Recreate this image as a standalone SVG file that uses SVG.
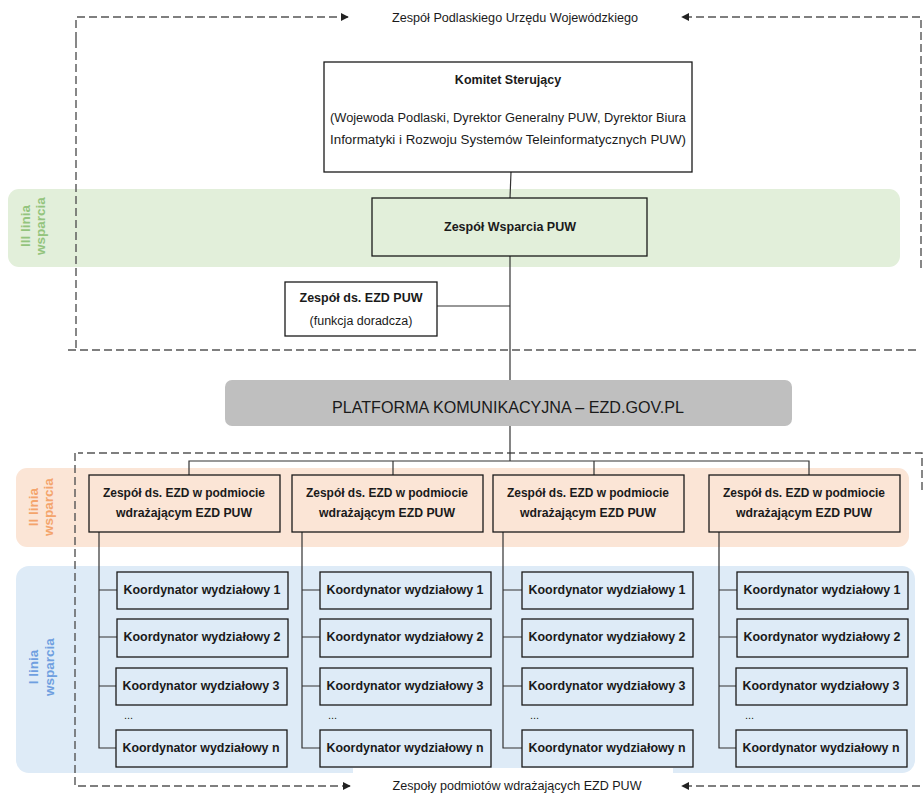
<svg xmlns="http://www.w3.org/2000/svg" width="924" height="794" viewBox="0 0 924 794">
<style>
text{font-family:"Liberation Sans",Arial,sans-serif;fill:#1a1a1a}
.b{font-weight:bold}
.box{stroke:#1a1a1a;stroke-width:1.3}
.w{fill:#ffffff}
.g{fill:#e2efda}
.o{fill:#fbe5d6}
.bl{fill:#deebf7}
.con{stroke:#333;stroke-width:1.2;fill:none}
.dash{stroke:#555;stroke-width:1.4;fill:none;stroke-dasharray:8 4}
.lbl{font-size:13.5px;font-weight:bold}
.k{font-size:12px;font-weight:bold}
.z{font-size:12px;font-weight:bold}
</style>
<defs>
<marker id="ah" viewBox="0 0 10 10" refX="9" refY="5" markerWidth="8" markerHeight="8" orient="auto-start-reverse" markerUnits="userSpaceOnUse">
<path d="M0,0 L10,5 L0,10 z" fill="#222"/>
</marker>
</defs>

<g id="bands">
<rect x="8" y="189" width="892" height="78" rx="11" fill="#e2efda"/>
<rect x="16" y="468" width="893" height="79" rx="11" fill="#fbe5d6"/>
<rect x="16" y="566" width="899" height="207" rx="13" fill="#deebf7"/>
<rect x="353" y="768" width="320" height="26" fill="#ffffff"/>
<text class="lbl" style="fill:#93c47d" transform="rotate(-90 30 226)" x="30" y="226" text-anchor="middle">III linia</text>
<text class="lbl" style="fill:#93c47d" transform="rotate(-90 45 226)" x="45" y="226" text-anchor="middle">wsparcia</text>
<text class="lbl" style="fill:#f4a46c" transform="rotate(-90 38 507)" x="38" y="507" text-anchor="middle">II linia</text>
<text class="lbl" style="fill:#f4a46c" transform="rotate(-90 53 507)" x="53" y="507" text-anchor="middle">wsparcia</text>
<text class="lbl" style="fill:#6f9fe0" transform="rotate(-90 38 667)" x="38" y="667" text-anchor="middle">I linia</text>
<text class="lbl" style="fill:#6f9fe0" transform="rotate(-90 54 667)" x="54" y="667" text-anchor="middle">wsparcia</text>
</g>

<g id="frames">
<path class="dash" d="M76,40 L76,17 L348,17" marker-end="url(#ah)"/>
<path class="dash" d="M76,40 L76,350"/>
<path class="dash" d="M921,268 L921,17 L682,17" marker-end="url(#ah)"/>
<path class="dash" d="M68,350 L918,350"/>
<text x="515" y="22" text-anchor="middle" font-size="12" textLength="246" lengthAdjust="spacingAndGlyphs">Zespół Podlaskiego Urzędu Wojewódzkiego</text>
<path class="dash" d="M922,490 L922,453 L78,453"/>
<path class="dash" d="M75,453 L75,786 L350,786" marker-end="url(#ah)"/>
<path class="dash" d="M920,786 L682,786" marker-end="url(#ah)"/>
<text x="517" y="790" text-anchor="middle" font-size="12" textLength="249" lengthAdjust="spacingAndGlyphs">Zespoły podmiotów wdrażających EZD PUW</text>
</g>

<g id="connectors">
<path class="con" d="M511,172 L510,198"/>
<path class="con" d="M510,256 L510,380"/>
<path class="con" d="M437,306 L510,306"/>
<path class="con" d="M510,426 L510,461"/>
<path class="con" d="M189,475 L189,461 L809,461 L809,475"/>
<path class="con" d="M393,461 L393,475"/>
<path class="con" d="M594,461 L594,475"/>
<path class="con" d="M99,532 L99,748 L117,748 M99,590 L117,590 M99,637 L117,637 M99,686 L116,686"/>
<path class="con" d="M302,532 L302,748 L320,748 M302,590 L320,590 M302,637 L320,637 M302,686 L320,686"/>
<path class="con" d="M503,532 L503,748 L522,748 M503,590 L522,590 M503,637 L522,637 M503,686 L522,686"/>
<path class="con" d="M719,532 L719,748 L737,748 M719,590 L737,590 M719,637 L737,637 M719,686 L737,686"/>
</g>

<g id="komitet">
<rect class="box w" x="324" y="62" width="368" height="110"/>
<text x="508" y="84" text-anchor="middle" class="b" font-size="12.5">Komitet Sterujący</text>
<text x="508" y="122" text-anchor="middle" font-size="12.5" textLength="356" lengthAdjust="spacingAndGlyphs">(Wojewoda Podlaski, Dyrektor Generalny PUW, Dyrektor Biura</text>
<text x="508" y="144" text-anchor="middle" font-size="12.5" textLength="356" lengthAdjust="spacingAndGlyphs">Informatyki i Rozwoju Systemów Teleinformatycznych PUW)</text>
</g>

<g id="wsparcia">
<rect class="box g" x="372" y="198" width="275" height="58"/>
<text x="510" y="231" text-anchor="middle" class="b" font-size="12.5">Zespół Wsparcia PUW</text>
</g>

<g id="ezd-puw">
<rect class="box w" x="285" y="282" width="152" height="54"/>
<text x="361" y="302" text-anchor="middle" class="b" font-size="12.5">Zespół ds. EZD PUW</text>
<text x="361" y="325" text-anchor="middle" font-size="12.5">(funkcja doradcza)</text>
</g>

<g id="platforma">
<rect x="225" y="380" width="567" height="46" rx="7" fill="#bfbfbf"/>
<text x="508" y="413" text-anchor="middle" font-size="16" textLength="352" lengthAdjust="spacingAndGlyphs">PLATFORMA KOMUNIKACYJNA – EZD.GOV.PL</text>
</g>

<g id="zespol-1">
<rect class="box o" x="89" y="475" width="191" height="57"/>
<text x="184" y="497" text-anchor="middle" class="z" textLength="162" lengthAdjust="spacingAndGlyphs">Zespół ds. EZD w podmiocie</text>
<text x="184" y="517" text-anchor="middle" class="z" textLength="136" lengthAdjust="spacingAndGlyphs">wdrażającym EZD PUW</text>
</g>
<g id="zespol-2">
<rect class="box o" x="292" y="475" width="191" height="57"/>
<text x="387" y="497" text-anchor="middle" class="z" textLength="162" lengthAdjust="spacingAndGlyphs">Zespół ds. EZD w podmiocie</text>
<text x="387" y="517" text-anchor="middle" class="z" textLength="136" lengthAdjust="spacingAndGlyphs">wdrażającym EZD PUW</text>
</g>
<g id="zespol-3">
<rect class="box o" x="493" y="475" width="191" height="57"/>
<text x="588" y="497" text-anchor="middle" class="z" textLength="162" lengthAdjust="spacingAndGlyphs">Zespół ds. EZD w podmiocie</text>
<text x="588" y="517" text-anchor="middle" class="z" textLength="136" lengthAdjust="spacingAndGlyphs">wdrażającym EZD PUW</text>
</g>
<g id="zespol-4">
<rect class="box o" x="709" y="475" width="191" height="57"/>
<text x="804" y="497" text-anchor="middle" class="z" textLength="162" lengthAdjust="spacingAndGlyphs">Zespół ds. EZD w podmiocie</text>
<text x="804" y="517" text-anchor="middle" class="z" textLength="136" lengthAdjust="spacingAndGlyphs">wdrażającym EZD PUW</text>
</g>

<g id="koord-col1">
<g id="k1-1"><rect class="box bl" x="117" y="572" width="171" height="37"/><text x="202" y="594" text-anchor="middle" class="k" textLength="157" lengthAdjust="spacingAndGlyphs">Koordynator wydziałowy 1</text></g>
<g id="k1-2"><rect class="box bl" x="117" y="619" width="171" height="38"/><text x="202" y="641" text-anchor="middle" class="k" textLength="157" lengthAdjust="spacingAndGlyphs">Koordynator wydziałowy 2</text></g>
<g id="k1-3"><rect class="box bl" x="116" y="668" width="171" height="37"/><text x="201" y="690" text-anchor="middle" class="k" textLength="157" lengthAdjust="spacingAndGlyphs">Koordynator wydziałowy 3</text></g>
<text x="124" y="719" font-size="11">...</text>
<g id="k1-n"><rect class="box bl" x="116" y="730" width="171" height="37"/><text x="201" y="752" text-anchor="middle" class="k" textLength="157" lengthAdjust="spacingAndGlyphs">Koordynator wydziałowy n</text></g>
</g>
<g id="koord-col2">
<g id="k2-1"><rect class="box bl" x="320" y="572" width="171" height="37"/><text x="405" y="594" text-anchor="middle" class="k" textLength="157" lengthAdjust="spacingAndGlyphs">Koordynator wydziałowy 1</text></g>
<g id="k2-2"><rect class="box bl" x="320" y="619" width="171" height="38"/><text x="405" y="641" text-anchor="middle" class="k" textLength="157" lengthAdjust="spacingAndGlyphs">Koordynator wydziałowy 2</text></g>
<g id="k2-3"><rect class="box bl" x="320" y="668" width="171" height="37"/><text x="405" y="690" text-anchor="middle" class="k" textLength="157" lengthAdjust="spacingAndGlyphs">Koordynator wydziałowy 3</text></g>
<text x="328" y="719" font-size="11">...</text>
<g id="k2-n"><rect class="box bl" x="320" y="730" width="171" height="37"/><text x="405" y="752" text-anchor="middle" class="k" textLength="157" lengthAdjust="spacingAndGlyphs">Koordynator wydziałowy n</text></g>
</g>
<g id="koord-col3">
<g id="k3-1"><rect class="box bl" x="522" y="572" width="171" height="37"/><text x="607" y="594" text-anchor="middle" class="k" textLength="157" lengthAdjust="spacingAndGlyphs">Koordynator wydziałowy 1</text></g>
<g id="k3-2"><rect class="box bl" x="522" y="619" width="171" height="38"/><text x="607" y="641" text-anchor="middle" class="k" textLength="157" lengthAdjust="spacingAndGlyphs">Koordynator wydziałowy 2</text></g>
<g id="k3-3"><rect class="box bl" x="522" y="668" width="171" height="37"/><text x="607" y="690" text-anchor="middle" class="k" textLength="157" lengthAdjust="spacingAndGlyphs">Koordynator wydziałowy 3</text></g>
<text x="530" y="719" font-size="11">...</text>
<g id="k3-n"><rect class="box bl" x="522" y="730" width="171" height="37"/><text x="607" y="752" text-anchor="middle" class="k" textLength="157" lengthAdjust="spacingAndGlyphs">Koordynator wydziałowy n</text></g>
</g>
<g id="koord-col4">
<g id="k4-1"><rect class="box bl" x="737" y="572" width="171" height="37"/><text x="822" y="594" text-anchor="middle" class="k" textLength="157" lengthAdjust="spacingAndGlyphs">Koordynator wydziałowy 1</text></g>
<g id="k4-2"><rect class="box bl" x="737" y="619" width="171" height="38"/><text x="822" y="641" text-anchor="middle" class="k" textLength="157" lengthAdjust="spacingAndGlyphs">Koordynator wydziałowy 2</text></g>
<g id="k4-3"><rect class="box bl" x="736" y="668" width="171" height="37"/><text x="821" y="690" text-anchor="middle" class="k" textLength="157" lengthAdjust="spacingAndGlyphs">Koordynator wydziałowy 3</text></g>
<text x="745" y="719" font-size="11">...</text>
<g id="k4-n"><rect class="box bl" x="736" y="730" width="171" height="37"/><text x="821" y="752" text-anchor="middle" class="k" textLength="157" lengthAdjust="spacingAndGlyphs">Koordynator wydziałowy n</text></g>
</g>
</svg>
